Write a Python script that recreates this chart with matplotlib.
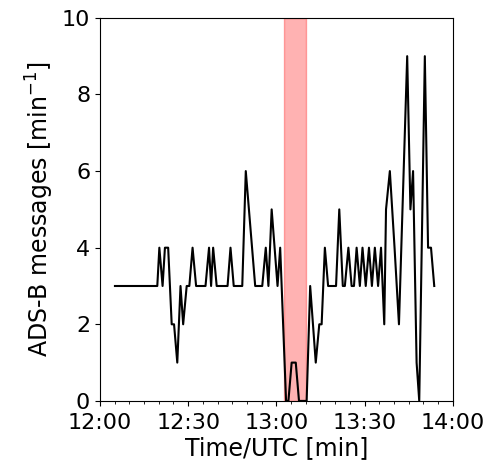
import matplotlib
matplotlib.use("Agg")
import matplotlib.pyplot as plt

# minutes after 12:00 UTC and messages per minute
minutes = [5.1, 19.5, 20.2, 21.3, 22.1, 23.2, 24.4, 25.2, 26.3, 27.4, 28.3, 29.5,
           30.4, 31.5, 32.7, 35.9, 37.1, 37.8, 38.5, 39.7, 43.4, 44.4, 45.5, 48.4,
           49.6, 52.8, 55.2, 56.4, 57.3, 58.4, 60.4, 61.3, 63.3, 64.1, 65.2, 66.6,
           67.7, 70.3, 71.5, 73.4, 74.6, 75.4, 76.5, 77.6, 80.3, 81.4, 82.6, 83.3,
           84.5, 85.6, 86.4, 87.3, 88.4, 89.3, 90.4, 91.5, 92.5, 93.5, 94.6, 95.6,
           96.7, 97.3, 98.6, 100.2, 101.7, 104.5, 105.6, 106.5, 107.7, 108.6, 110.5,
           111.6, 112.6, 113.7]
messages = [3, 3, 4, 3, 4, 4, 2, 2, 1, 3, 2, 3,
            3, 4, 3, 3, 4, 3, 4, 3, 3, 4, 3, 3,
            6, 3, 3, 4, 3, 5, 3, 4, 0, 0, 1, 1,
            0, 0, 3, 1, 2, 2, 4, 3, 3, 5, 3, 3,
            4, 3, 3, 4, 3, 4, 3, 4, 3, 4, 3, 4,
            2, 5, 6, 4, 2, 9, 5, 6, 1, 0, 9,
            4, 4, 3]

event_span = (62.5, 70.0)
tick_pos = [0, 30, 60, 90, 120]
tick_labels = ["12:00", "12:30", "13:00", "13:30", "14:00"]

fig = plt.figure(figsize=(4.9, 4.7), dpi=100)
ax = fig.add_axes([0.204, 0.147, 0.72, 0.815])

ax.axvspan(*event_span, color="red", alpha=0.3)
ax.plot(minutes, messages, color="black", lw=1.5)

ax.set_xlim(0, 120)
ax.set_ylim(0, 10)
ax.set_xticks(tick_pos)
ax.set_xticklabels(tick_labels)
ax.set_xticks(range(0, 121, 5), minor=True)
ax.set_yticks(range(0, 11, 2))
ax.tick_params(labelsize=16)
ax.tick_params(axis="x", pad=5.5)
ax.set_xlabel("Time/UTC [min]", fontsize=17, labelpad=2)
ax.set_ylabel("ADS-B messages [min$^{-1}$]", fontsize=17)

fig.savefig("out.png", dpi=100)
